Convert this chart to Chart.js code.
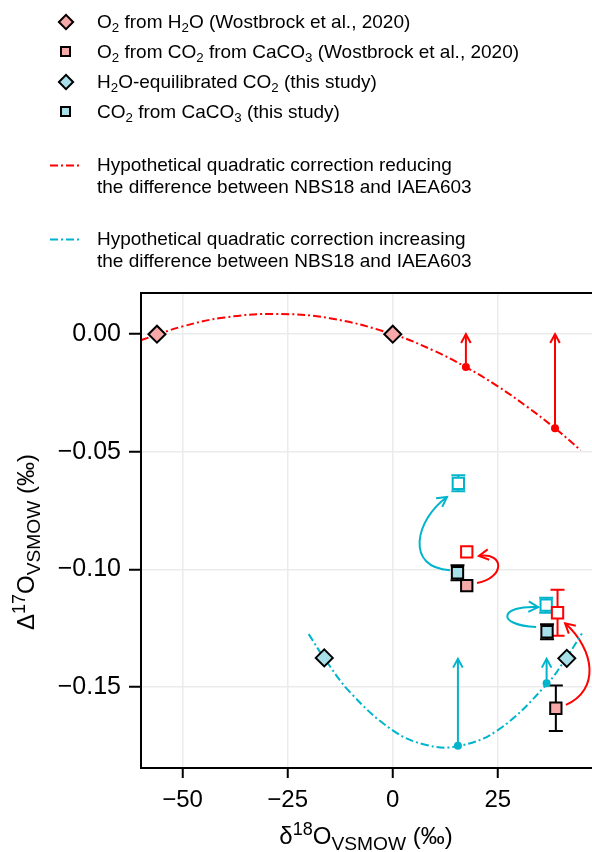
<!DOCTYPE html>
<html>
<head>
<meta charset="utf-8">
<script src="https://cdn.jsdelivr.net/npm/chart.js@4/dist/chart.umd.min.js"></script>
<style>
    body { margin: 0; background: #fff; }
    #wrap { position: relative; width: 592px; height: 852px; overflow: hidden; font-family: "Liberation Sans", Arial, sans-serif; color: #000; }
    #c { position: absolute; left: 0; top: 0; }
    .lg { position: absolute; left: 97px; font-size: 19px; line-height: 22px; white-space: nowrap; }
    .mk { position: absolute; box-sizing: border-box; border: 2px solid #000; }
    .ln { position: absolute; left: 50px; width: 32px; height: 0; }
    sub { font-size: 0.7em; vertical-align: -0.3em; line-height: 0; }
    sup { font-size: 0.75em; vertical-align: 0.5em; line-height: 0; }
    .ttl { position: absolute; font-size: 24px; line-height: 26px; white-space: nowrap; }
    .ttl sub { font-size: 0.8em; vertical-align: -0.3em; }
</style>
</head>
<body>
<div id="wrap">
    <canvas id="c" width="592" height="852"></canvas>

    <div class="mk" style="left:60px;top:16px;width:12px;height:12px;background:#f7a8a8;transform:rotate(45deg)"></div>
    <div class="lg" style="top:11px">O<sub>2</sub> from H<sub>2</sub>O (Wostbrock et al., 2020)</div>

    <div class="mk" style="left:60px;top:46px;width:11px;height:11px;background:#f7a8a8"></div>
    <div class="lg" style="top:41px">O<sub>2</sub> from CO<sub>2</sub> from CaCO<sub>3</sub> (Wostbrock et al., 2020)</div>

    <div class="mk" style="left:60px;top:76px;width:12px;height:12px;background:#a8e0ea;transform:rotate(45deg)"></div>
    <div class="lg" style="top:71px">H<sub>2</sub>O-equilibrated CO<sub>2</sub> (this study)</div>

    <div class="mk" style="left:60px;top:106px;width:11px;height:11px;background:#a8e0ea"></div>
    <div class="lg" style="top:101px">CO<sub>2</sub> from CaCO<sub>3</sub> (this study)</div>

    <svg class="ln" style="top:164px;height:3px" width="32" height="3"><line x1="0" y1="1.5" x2="32" y2="1.5" stroke="#ff0000" stroke-width="2" stroke-dasharray="8 3 2 3"/></svg>
    <div class="lg" style="top:154px">Hypothetical quadratic correction reducing<br>the difference between NBS18 and IAEA603</div>

    <svg class="ln" style="top:238px;height:3px" width="32" height="3"><line x1="0" y1="1.5" x2="32" y2="1.5" stroke="#00b4cc" stroke-width="2" stroke-dasharray="8 3 2 3"/></svg>
    <div class="lg" style="top:228px">Hypothetical quadratic correction increasing<br>the difference between NBS18 and IAEA603</div>

    <div class="ttl" id="xt" style="left:366px;top:823px;transform:translateX(-50%)">δ<sup>18</sup>O<sub>VSMOW</sub> (‰)</div>
    <div class="ttl" id="yt" style="left:26px;top:542px;transform:translate(-50%,-50%) rotate(-90deg)">Δ<sup>17</sup>O<sub>VSMOW</sub> (‰)</div>
</div>

<script>
const xTicks = [-50, -25, 0, 25];
const yTicks = [0, -0.05, -0.10, -0.15];

// O2 from H2O (Wostbrock et al., 2020)
const wbWaterX = [-56.1, 0];
const wbWaterY = [0, 0];

// O2 from CO2 from CaCO3 (Wostbrock et al., 2020): reported and after correction
const wbCarbX = [17.6, 38.8];
const wbCarbY = [-0.1069, -0.1590];
const wbCarbErr = [0, 0.0097];
const wbCarbCorrX = [17.6, 39.2];
const wbCarbCorrY = [-0.0925, -0.1184];
const wbCarbCorrErr = [0, 0.0098];

// H2O-equilibrated CO2 (this study)
const eqX = [-16.3, 41.4];
const eqY = [-0.1376, -0.1378];

// CO2 from CaCO3 (this study): measured and after correction
const carbX = [15.4, 36.7];
const carbY = [-0.1014, -0.1265];
const carbErr = [0.0032, 0.0032];
const carbCorrX = [15.6, 36.5];
const carbCorrY = [-0.0634, -0.1152];
const carbCorrErr = [0.0034, 0.0032];

// hypothetical quadratic corrections
const redCurveX = [-60, -50, -40, -28, -15, 0, 10, 17.4, 25, 32, 38.6, 44.7];
const redCurveY = [-0.0026, 0.0033, 0.0071, 0.0086, 0.0068, 0, -0.0072, -0.0140, -0.0222, -0.0309, -0.0400, -0.0493];
const redDotX = [17.4, 38.6];
const redDotY = [-0.0140, -0.0400];
const redArrowTo = [0, 0];

const cyanCurveX = [-20, -16.3, -10, 0, 8, 15.5, 25, 36.6, 41.5, 45];
const cyanCurveY = [-0.1275, -0.1377, -0.1525, -0.1684, -0.1746, -0.1751, -0.1683, -0.1489, -0.1370, -0.1272];
const cyanDotX = [15.5, 36.6];
const cyanDotY = [-0.1749, -0.1484];
const cyanArrowTo = [-0.138, -0.138];

// curved arrows (bezier control points, data units)
const bendX = [[13.6, 2.9, 5.3, 12.9], [20.05, 26.7, 26.7, 20.5], [34.1, 24.3, 25.5, 34.6], [41.2, 49.3, 48.1, 41.0]];
const bendY = [[-0.1003, -0.0994, -0.0790, -0.0692], [-0.1058, -0.1036, -0.0926, -0.0943], [-0.1245, -0.1236, -0.1151, -0.1160], [-0.1576, -0.1512, -0.1342, -0.1229]];

const RED = "#ff0000";
const CYAN = "#00b4cc";
const PINK = "#f7a8a8";
const LCYAN = "#a8e0ea";

const pts = (xs, ys) => xs.map((x, i) => ({ x: x, y: ys[i] }));
const minus = (s) => s.replace("-", "\u2212");

function arrowHead(ctx, x, y, ang, color, len) {
    const spread = 0.5;
    ctx.strokeStyle = color;
    ctx.beginPath();
    ctx.moveTo(x - len * Math.cos(ang - spread), y - len * Math.sin(ang - spread));
    ctx.lineTo(x, y);
    ctx.lineTo(x - len * Math.cos(ang + spread), y - len * Math.sin(ang + spread));
    ctx.stroke();
}

function errBars(ctx, xs, ys, errs, color, sx, sy) {
    ctx.strokeStyle = color;
    xs.forEach((x, i) => {
        if (!errs[i]) return;
        const px = sx.getPixelForValue(x);
        const top = sy.getPixelForValue(ys[i] + errs[i]);
        const bot = sy.getPixelForValue(ys[i] - errs[i]);
        ctx.beginPath();
        ctx.moveTo(px, top); ctx.lineTo(px, bot);
        ctx.moveTo(px - 7, top); ctx.lineTo(px + 7, top);
        ctx.moveTo(px - 7, bot); ctx.lineTo(px + 7, bot);
        ctx.stroke();
    });
}

const extras = {
    id: "extras",
    beforeDatasetsDraw(chart) {
        const ctx = chart.ctx, sx = chart.scales.x, sy = chart.scales.y;
        const a = chart.chartArea;
        ctx.save();
        ctx.beginPath();
        ctx.rect(a.left, a.top, a.right - a.left + 10, a.bottom - a.top);
        ctx.clip();
        ctx.lineWidth = 2;
        ctx.lineCap = "butt";

        errBars(ctx, wbCarbX, wbCarbY, wbCarbErr, "#000", sx, sy);
        errBars(ctx, carbX, carbY, carbErr, "#000", sx, sy);
        errBars(ctx, wbCarbCorrX, wbCarbCorrY, wbCarbCorrErr, RED, sx, sy);
        errBars(ctx, carbCorrX, carbCorrY, carbCorrErr, CYAN, sx, sy);

        // straight arrows from the curves up to the measured level
        const straight = [[redDotX, redDotY, redArrowTo, RED], [cyanDotX, cyanDotY, cyanArrowTo, CYAN]];
        straight.forEach(([xs, ys, to, col]) => {
            xs.forEach((x, i) => {
                const px = sx.getPixelForValue(x);
                const y0 = sy.getPixelForValue(ys[i]);
                const y1 = sy.getPixelForValue(to[i]);
                ctx.strokeStyle = col;
                ctx.beginPath();
                ctx.moveTo(px, y0); ctx.lineTo(px, y1);
                ctx.stroke();
                arrowHead(ctx, px, y1, -Math.PI / 2, col, 10);
            });
        });

        // curved arrows from measured to corrected values
        const bendCol = [CYAN, RED, CYAN, RED];
        bendX.forEach((bx, i) => {
            const p = bx.map((x, j) => [sx.getPixelForValue(x), sy.getPixelForValue(bendY[i][j])]);
            ctx.strokeStyle = bendCol[i];
            ctx.beginPath();
            ctx.moveTo(p[0][0], p[0][1]);
            ctx.bezierCurveTo(p[1][0], p[1][1], p[2][0], p[2][1], p[3][0], p[3][1]);
            ctx.stroke();
            const ang = Math.atan2(p[3][1] - p[2][1], p[3][0] - p[2][0]);
            arrowHead(ctx, p[3][0], p[3][1], ang, bendCol[i], 11);
        });
        ctx.restore();
    },
    afterDraw(chart) {
        const ctx = chart.ctx, a = chart.chartArea;
        ctx.save();
        ctx.strokeStyle = "#000";
        ctx.lineWidth = 2;
        ctx.strokeRect(a.left, a.top, a.right - a.left + 6, a.bottom - a.top);
        ctx.restore();
    },
};

const dashDot = [8, 3, 2, 3];

new Chart(document.getElementById("c"), {
    type: "scatter",
    data: {
        datasets: [
            { type: "line", data: pts(redCurveX, redCurveY), borderColor: RED, borderWidth: 2, borderDash: dashDot, pointRadius: 0, tension: 0.4, fill: false, order: 10 },
            { type: "line", data: pts(cyanCurveX, cyanCurveY), borderColor: CYAN, borderWidth: 2, borderDash: dashDot, pointRadius: 0, tension: 0.4, fill: false, order: 10 },
            { data: pts(redDotX, redDotY), backgroundColor: RED, borderWidth: 0, pointRadius: 4, order: 5 },
            { data: pts(cyanDotX, cyanDotY), backgroundColor: CYAN, borderWidth: 0, pointRadius: 4, order: 5 },
            { data: pts(wbWaterX, wbWaterY), pointStyle: "rectRot", backgroundColor: PINK, borderColor: "#000", borderWidth: 2, pointRadius: 8.5, order: 1 },
            { data: pts(eqX, eqY), pointStyle: "rectRot", backgroundColor: LCYAN, borderColor: "#000", borderWidth: 2, pointRadius: 8.5, order: 1 },
            { data: pts(wbCarbCorrX, wbCarbCorrY), pointStyle: "rect", backgroundColor: "#fff", borderColor: RED, borderWidth: 2, pointRadius: 8, order: 2 },
            { data: pts(carbCorrX, carbCorrY), pointStyle: "rect", backgroundColor: "#fff", borderColor: CYAN, borderWidth: 2, pointRadius: 8, order: 2 },
            { data: pts(wbCarbX, wbCarbY), pointStyle: "rect", backgroundColor: PINK, borderColor: "#000", borderWidth: 2, pointRadius: 8, order: 1 },
            { data: pts(carbX, carbY), pointStyle: "rect", backgroundColor: LCYAN, borderColor: "#000", borderWidth: 2, pointRadius: 8, order: 1 },
        ],
    },
    options: {
        responsive: false,
        animation: false,
        devicePixelRatio: 1,
        layout: { autoPadding: false, padding: { top: 293, right: 0, left: 0, bottom: 0 } },
        plugins: { legend: { display: false }, tooltip: { enabled: false } },
        scales: {
            x: {
                type: "linear",
                min: -59.9,
                max: 47.4,
                afterFit: (s) => { s.height = 84; s.paddingLeft = 0; s.paddingRight = 0; },
                afterBuildTicks: (s) => { s.ticks = xTicks.map((v) => ({ value: v })); },
                grid: { color: "#ebebeb", lineWidth: 1.5, tickColor: "#000", tickWidth: 2, tickLength: 10 },
                border: { display: false },
                ticks: { color: "#000", padding: 8, font: { family: "Liberation Sans", size: 24 }, callback: (v) => minus(String(v)) },
            },
            y: {
                type: "linear",
                min: -0.1844,
                max: 0.0175,
                afterFit: (s) => { s.width = 141; s.paddingTop = 0; s.paddingBottom = 0; },
                afterBuildTicks: (s) => { s.ticks = yTicks.map((v) => ({ value: v })); },
                grid: { color: "#ebebeb", lineWidth: 1.5, tickColor: "#000", tickWidth: 2, tickLength: 12 },
                border: { display: false },
                ticks: { color: "#000", padding: 8, font: { family: "Liberation Sans", size: 25 }, callback: (v) => minus(v.toFixed(2)) },
            },
        },
    },
    plugins: [extras],
});
</script>
</body>
</html>
